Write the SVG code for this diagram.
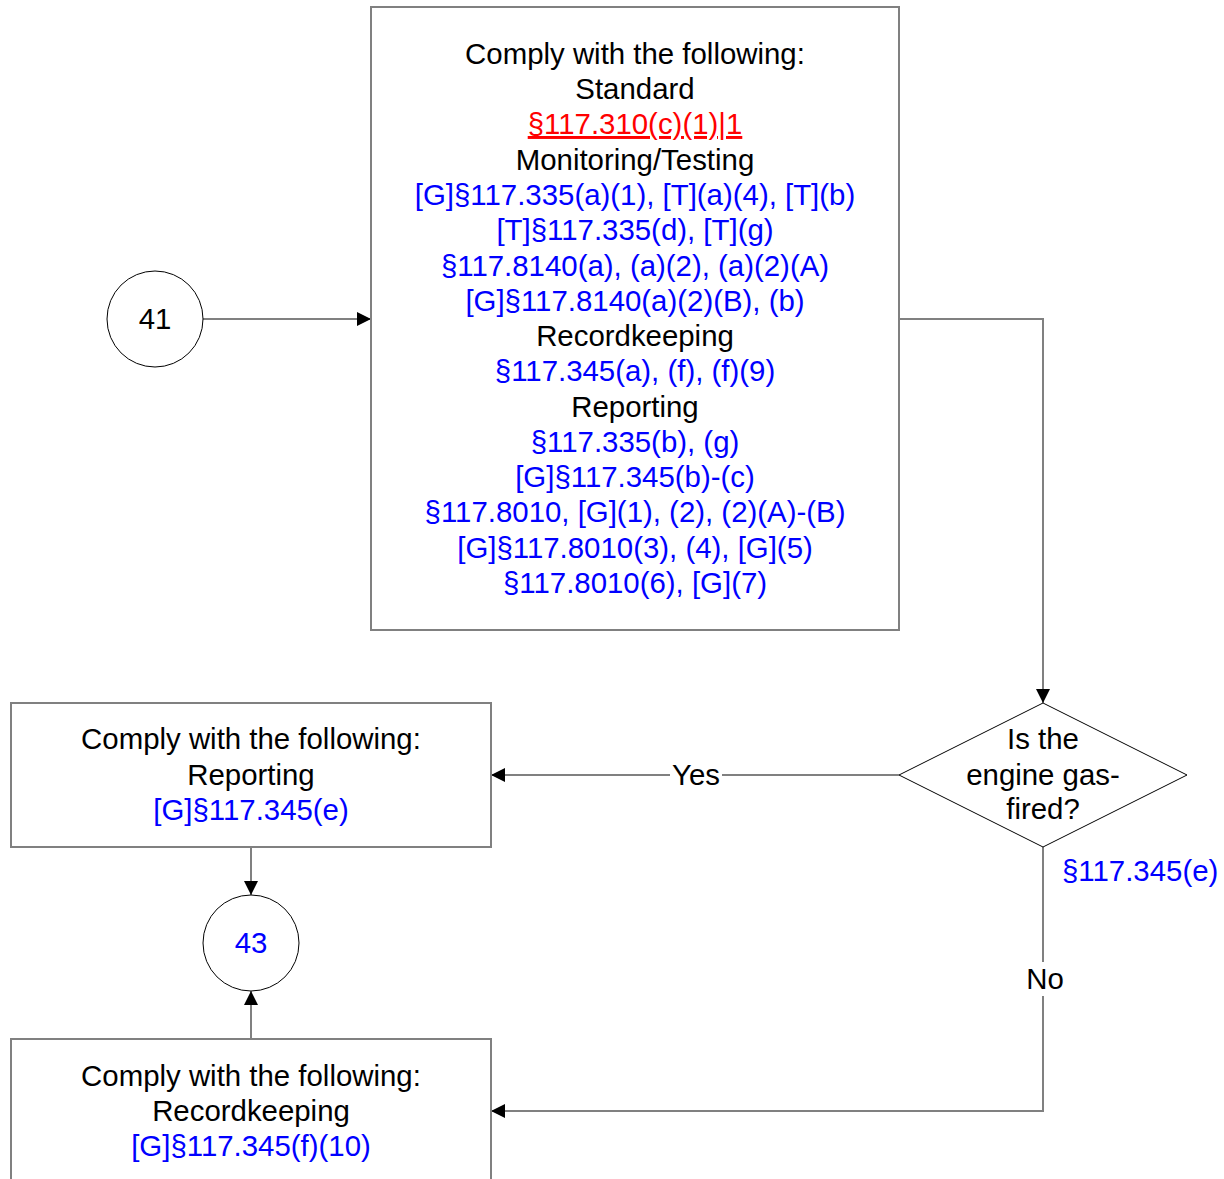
<svg xmlns="http://www.w3.org/2000/svg" width="1224" height="1179" viewBox="0 0 1224 1179">
<style>
text{font-family:"Liberation Sans",Arial,sans-serif;font-size:29.4px;text-anchor:middle}
.k{fill:#000}
.b{fill:#0000ff}
.r{fill:#ff0000;text-decoration:underline}
.box{fill:#fff;stroke:#808080;stroke-width:2}
.shape{fill:#fff;stroke:#000;stroke-width:1}
.con{fill:none;stroke:#808080;stroke-width:2}
</style>
<defs>
<marker id="arr" viewBox="0 0 14 14" refX="14" refY="7" markerWidth="14" markerHeight="14" markerUnits="userSpaceOnUse" orient="auto">
<path d="M0,0 L14,7 L0,14 Z" fill="#000"/>
</marker>
</defs>
<rect width="1224" height="1179" fill="#fff"/>
<g id="connectors">
<line class="con" x1="203" y1="319" x2="371" y2="319" marker-end="url(#arr)"/>
<polyline class="con" points="899,319 1043,319 1043,703" marker-end="url(#arr)"/>
<line class="con" x1="899" y1="775" x2="491" y2="775" marker-end="url(#arr)"/>
<polyline class="con" points="1043,847 1043,1111 491,1111" marker-end="url(#arr)"/>
<line class="con" x1="251" y1="847" x2="251" y2="895" marker-end="url(#arr)"/>
<line class="con" x1="251" y1="1039" x2="251" y2="991" marker-end="url(#arr)"/>
<rect x="670" y="760" width="52" height="30" fill="#fff"/>
<text class="k" x="696" y="785">Yes</text>
<rect x="1022" y="962" width="44" height="34" fill="#fff"/>
<text class="k" x="1045" y="989">No</text>
<text class="b" x="1062" y="881" style="text-anchor:start">§117.345(e)</text>
</g>
<g id="node41">
<circle class="shape" cx="155" cy="319" r="48"/>
<text class="k" x="155" y="329">41</text>
</g>
<g id="main">
<rect class="box" x="371" y="7" width="528" height="623"/>
<text class="k" x="635" y="64">Comply with the following:</text>
<text class="k" x="635" y="99">Standard</text>
<text class="r" x="635" y="134">§117.310(c)(1)|1</text>
<text class="k" x="635" y="170">Monitoring/Testing</text>
<text class="b" x="635" y="205">[G]§117.335(a)(1), [T](a)(4), [T](b)</text>
<text class="b" x="635" y="240">[T]§117.335(d), [T](g)</text>
<text class="b" x="635" y="276">§117.8140(a), (a)(2), (a)(2)(A)</text>
<text class="b" x="635" y="311">[G]§117.8140(a)(2)(B), (b)</text>
<text class="k" x="635" y="346">Recordkeeping</text>
<text class="b" x="635" y="381">§117.345(a), (f), (f)(9)</text>
<text class="k" x="635" y="417">Reporting</text>
<text class="b" x="635" y="452">§117.335(b), (g)</text>
<text class="b" x="635" y="487">[G]§117.345(b)-(c)</text>
<text class="b" x="635" y="522">§117.8010, [G](1), (2), (2)(A)-(B)</text>
<text class="b" x="635" y="558">[G]§117.8010(3), (4), [G](5)</text>
<text class="b" x="635" y="593">§117.8010(6), [G](7)</text>
</g>
<g id="decision">
<polygon class="shape" points="1043,703 1187,775 1043,847 899,775"/>
<text class="k" x="1043" y="749">Is the</text>
<text class="k" x="1043" y="785">engine gas-</text>
<text class="k" x="1043" y="819">fired?</text>
</g>
<g id="reporting">
<rect class="box" x="11" y="703" width="480" height="144"/>
<text class="k" x="251" y="749">Comply with the following:</text>
<text class="k" x="251" y="785">Reporting</text>
<text class="b" x="251" y="820">[G]§117.345(e)</text>
</g>
<g id="node43">
<circle class="shape" cx="251" cy="943" r="48"/>
<text class="b" x="251" y="953">43</text>
</g>
<g id="recordkeeping">
<rect class="box" x="11" y="1039" width="480" height="160"/>
<text class="k" x="251" y="1086">Comply with the following:</text>
<text class="k" x="251" y="1121">Recordkeeping</text>
<text class="b" x="251" y="1156">[G]§117.345(f)(10)</text>
</g>
</svg>
